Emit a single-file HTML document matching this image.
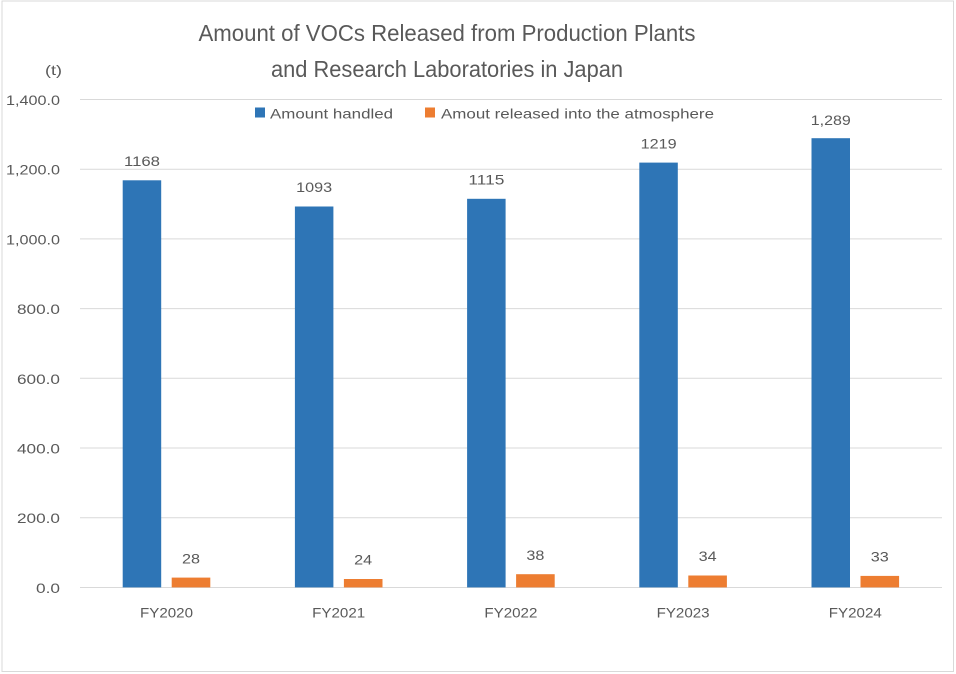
<!DOCTYPE html>
<html><head><meta charset="utf-8"><style>
html,body{margin:0;padding:0;background:#fff;}
svg{display:block;}
text{font-family:"Liberation Sans",sans-serif;fill:#595959;}
</style></head><body>
<svg width="956" height="674" viewBox="0 0 956 674" xmlns="http://www.w3.org/2000/svg">
<rect x="0" y="0" width="956" height="674" fill="#fff"/>
<rect x="2" y="1" width="951.5" height="670.5" fill="none" stroke="#D9D9D9" stroke-width="1"/>
<!-- title -->
<text x="447" y="41" font-size="23" text-anchor="middle" textLength="497" lengthAdjust="spacingAndGlyphs">Amount of VOCs Released from Production Plants</text>
<text x="447" y="77" font-size="23" text-anchor="middle" textLength="352" lengthAdjust="spacingAndGlyphs">and Research Laboratories in Japan</text>
<text x="45" y="75" font-size="14" textLength="17" lengthAdjust="spacingAndGlyphs">(t)</text>
<!-- gridlines -->
<g stroke="#D9D9D9" stroke-width="1">
<line x1="80" y1="99.5" x2="942" y2="99.5"/>
<line x1="80" y1="169.2" x2="942" y2="169.2"/>
<line x1="80" y1="238.9" x2="942" y2="238.9"/>
<line x1="80" y1="308.6" x2="942" y2="308.6"/>
<line x1="80" y1="378.3" x2="942" y2="378.3"/>
<line x1="80" y1="448" x2="942" y2="448"/>
<line x1="80" y1="517.7" x2="942" y2="517.7"/>
<line x1="80" y1="587.5" x2="942" y2="587.5"/>
</g>
<!-- y labels -->
<g font-size="14" text-anchor="end">
<text x="60" y="105" textLength="54" lengthAdjust="spacingAndGlyphs">1,400.0</text>
<text x="60" y="174.7" textLength="54" lengthAdjust="spacingAndGlyphs">1,200.0</text>
<text x="60" y="244.4" textLength="54" lengthAdjust="spacingAndGlyphs">1,000.0</text>
<text x="60" y="314.1" textLength="43" lengthAdjust="spacingAndGlyphs">800.0</text>
<text x="60" y="383.8" textLength="43" lengthAdjust="spacingAndGlyphs">600.0</text>
<text x="60" y="453.5" textLength="43" lengthAdjust="spacingAndGlyphs">400.0</text>
<text x="60" y="523.2" textLength="43" lengthAdjust="spacingAndGlyphs">200.0</text>
<text x="60" y="593" textLength="24" lengthAdjust="spacingAndGlyphs">0.0</text>
</g>
<!-- legend -->
<rect x="255" y="107.5" width="10" height="10" fill="#2E75B6"/>
<text x="270" y="118.5" font-size="14" textLength="123" lengthAdjust="spacingAndGlyphs">Amount handled</text>
<rect x="425" y="107.5" width="10" height="10" fill="#ED7D31"/>
<text x="441" y="118.5" font-size="14" textLength="273" lengthAdjust="spacingAndGlyphs">Amout released into the atmosphere</text>
<!-- bars -->
<g fill="#2E75B6">
<rect x="122.7" y="180.3" width="38.5" height="407.1"/>
<rect x="294.9" y="206.5" width="38.5" height="380.9"/>
<rect x="467.1" y="198.8" width="38.5" height="388.6"/>
<rect x="639.3" y="162.6" width="38.5" height="424.8"/>
<rect x="811.5" y="138.2" width="38.5" height="449.2"/>
</g>
<g fill="#ED7D31">
<rect x="171.7" y="577.6" width="38.6" height="9.8"/>
<rect x="343.9" y="579.0" width="38.6" height="8.4"/>
<rect x="516.1" y="574.2" width="38.6" height="13.2"/>
<rect x="688.3" y="575.5" width="38.6" height="11.9"/>
<rect x="860.5" y="575.9" width="38.6" height="11.5"/>
</g>
<!-- data labels -->
<g font-size="14" text-anchor="middle">
<text x="142" y="166" textLength="36" lengthAdjust="spacingAndGlyphs">1168</text>
<text x="314.2" y="192.2" textLength="36" lengthAdjust="spacingAndGlyphs">1093</text>
<text x="486.4" y="184.5" textLength="36" lengthAdjust="spacingAndGlyphs">1115</text>
<text x="658.6" y="148.3" textLength="36" lengthAdjust="spacingAndGlyphs">1219</text>
<text x="830.8" y="125" textLength="40" lengthAdjust="spacingAndGlyphs">1,289</text>
<text x="191" y="563.3" textLength="18" lengthAdjust="spacingAndGlyphs">28</text>
<text x="363.2" y="564.7" textLength="18" lengthAdjust="spacingAndGlyphs">24</text>
<text x="535.4" y="559.9" textLength="18" lengthAdjust="spacingAndGlyphs">38</text>
<text x="707.6" y="561.2" textLength="18" lengthAdjust="spacingAndGlyphs">34</text>
<text x="879.8" y="561.6" textLength="18" lengthAdjust="spacingAndGlyphs">33</text>
</g>
<!-- x labels -->
<g font-size="14" text-anchor="middle">
<text x="166.5" y="617.5" textLength="53" lengthAdjust="spacingAndGlyphs">FY2020</text>
<text x="338.7" y="617.5" textLength="53" lengthAdjust="spacingAndGlyphs">FY2021</text>
<text x="510.9" y="617.5" textLength="53" lengthAdjust="spacingAndGlyphs">FY2022</text>
<text x="683.1" y="617.5" textLength="53" lengthAdjust="spacingAndGlyphs">FY2023</text>
<text x="855.3" y="617.5" textLength="53" lengthAdjust="spacingAndGlyphs">FY2024</text>
</g>
</svg>
</body></html>
